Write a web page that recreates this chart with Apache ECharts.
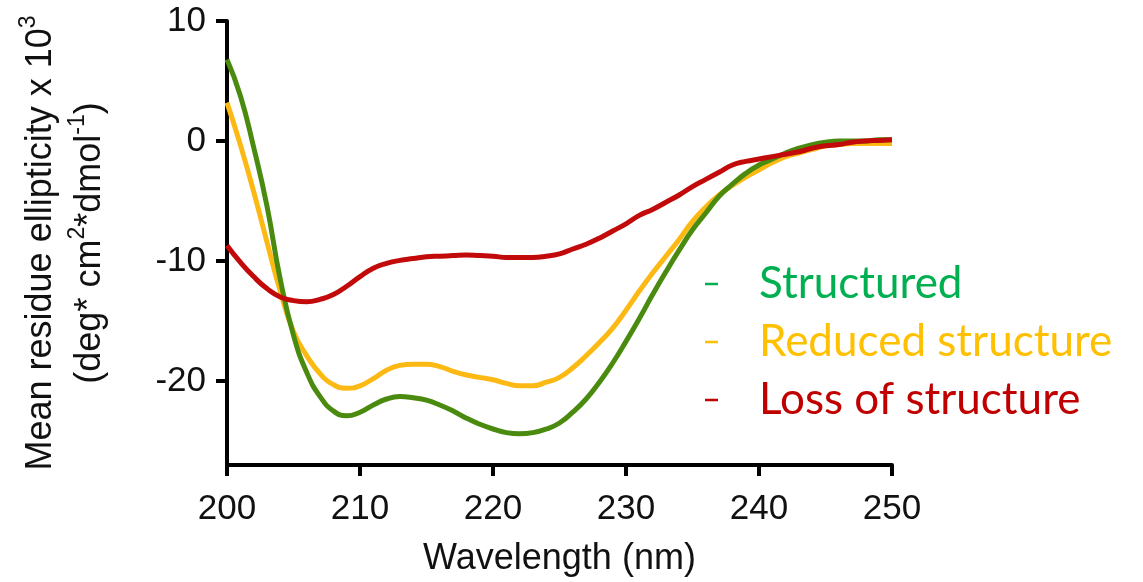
<!DOCTYPE html>
<html>
<head>
<meta charset="utf-8">
<script src="https://cdn.jsdelivr.net/npm/echarts@6/dist/echarts.min.js"></script>
<style>
  html, body { margin: 0; padding: 0; background: #fff; }
  #main { width: 1143px; height: 582px; }
</style>
</head>
<body>
<div id="main"></div>
<script>
// wavelength in nm, one reading per nm
var wavelength = [];
for (var w = 200; w <= 250; w++) wavelength.push(w);

// mean residue ellipticity x 10^3
var structured = [
  6.8, 3.8, -0.5, -5.4, -11.5, -16.2, -19.3, -21.3, -22.5, -22.9,
  -22.6, -22.0, -21.5, -21.3, -21.4, -21.6, -22.0, -22.5, -23.1, -23.6,
  -24.0, -24.3, -24.4, -24.3, -24.0, -23.5, -22.6, -21.5, -20.1, -18.5,
  -16.7, -14.8, -12.8, -10.9, -9.1, -7.4, -6.0, -4.6, -3.6, -2.7,
  -2.0, -1.5, -1.0, -0.6, -0.3, -0.1, 0.0, 0.0, 0.0, 0.1, 0.1
];
var reduced = [
  3.2, -0.3, -4.2, -8.4, -12.5, -15.9, -17.9, -19.4, -20.3, -20.6,
  -20.4, -19.8, -19.1, -18.7, -18.6, -18.6, -18.8, -19.2, -19.5, -19.7,
  -19.9, -20.2, -20.4, -20.4, -20.1, -19.7, -18.9, -17.9, -16.8, -15.6,
  -14.1, -12.5, -11.0, -9.6, -8.2, -6.7, -5.5, -4.5, -3.7, -3.0,
  -2.4, -1.8, -1.3, -1.0, -0.7, -0.4, -0.3, -0.2, -0.2, -0.2, -0.2
];
var lossOfStructure = [
  -8.7, -10.1, -11.3, -12.3, -13.0, -13.3, -13.4, -13.2, -12.8, -12.1,
  -11.3, -10.6, -10.2, -9.95, -9.8, -9.65, -9.6, -9.55, -9.5, -9.55,
  -9.6, -9.7, -9.7, -9.7, -9.6, -9.4, -9.0, -8.6, -8.1, -7.5,
  -6.9, -6.2, -5.7, -5.1, -4.5, -3.8, -3.2, -2.6, -2.0, -1.7,
  -1.5, -1.3, -1.1, -0.9, -0.6, -0.4, -0.3, -0.1, 0.0, 0.05, 0.1
];

var seriesNames = ['Structured', 'Reduced structure', 'Loss of structure'];
var yTicks = [-20, -10, 0, 10];

function pairs(arr) {
  return arr.map(function (v, i) { return [wavelength[i], v]; });
}

var chart = echarts.init(document.getElementById('main'), null, { renderer: 'canvas' });

var axisFont = 'Liberation Sans, Arial, sans-serif';

chart.setOption({
  animation: false,
  backgroundColor: '#fff',
  grid: {
    left: 227,
    right: 251,
    top: 21,
    bottom: 115
  },
  legend: {
    orient: 'vertical',
    left: 700,
    top: 255,
    itemGap: 10,
    icon: 'rect',
    itemWidth: 13,
    itemHeight: 2.5,
    selectedMode: false,
    textStyle: {
      fontFamily: 'Lato, sans-serif',
      fontSize: 44,
      lineHeight: 48,
      padding: [0, 0, 0, 36]
    },
    data: [
      { name: seriesNames[0], itemStyle: { color: '#00b050' }, textStyle: { color: '#00b050' } },
      { name: seriesNames[1], itemStyle: { color: '#ffc000' }, textStyle: { color: '#ffc000' } },
      { name: seriesNames[2], itemStyle: { color: '#c00000' }, textStyle: { color: '#c00000' } }
    ]
  },
  xAxis: {
    type: 'value',
    min: 200,
    max: 250,
    interval: 10,
    name: 'Wavelength (nm)',
    nameLocation: 'middle',
    nameGap: 76,
    nameTextStyle: { color: '#111', fontFamily: axisFont, fontSize: 36 },
    axisLine: { onZero: false, lineStyle: { color: '#000', width: 4 } },
    axisTick: { length: 11, lineStyle: { color: '#000', width: 4 } },
    axisLabel: { color: '#111', fontFamily: axisFont, fontSize: 35, margin: 27 },
    splitLine: { show: false }
  },
  yAxis: {
    type: 'value',
    min: -27,
    max: 10,
    name: '{a|Mean residue ellipticity x 10}{s|3}\n{a|(deg* cm}{s|2}{a|*dmol}{s|-1}{a|)}',
    nameLocation: 'middle',
    nameGap: 112,
    nameTextStyle: {
      color: '#111',
      fontFamily: axisFont,
      lineHeight: 49,
      rich: {
        a: { fontFamily: axisFont, fontSize: 36, color: '#111', lineHeight: 49 },
        s: { fontFamily: axisFont, fontSize: 23, color: '#111', lineHeight: 49, verticalAlign: 'top' }
      }
    },
    axisLine: { onZero: false, lineStyle: { color: '#000', width: 4 } },
    axisTick: { length: 11, customValues: yTicks, lineStyle: { color: '#000', width: 4 } },
    axisLabel: { color: '#111', fontFamily: axisFont, fontSize: 35, margin: 21, customValues: yTicks },
    splitLine: { show: false }
  },
  series: [
    {
      name: seriesNames[0],
      type: 'line',
      smooth: true,
      showSymbol: false,
      data: pairs(structured),
      lineStyle: { color: '#4a8b0f', width: 5 },
      itemStyle: { color: '#00b050' },
      z: 3
    },
    {
      name: seriesNames[1],
      type: 'line',
      smooth: true,
      showSymbol: false,
      data: pairs(reduced),
      lineStyle: { color: '#fdb913', width: 5 },
      itemStyle: { color: '#ffc000' },
      z: 2
    },
    {
      name: seriesNames[2],
      type: 'line',
      smooth: true,
      showSymbol: false,
      data: pairs(lossOfStructure),
      lineStyle: { color: '#c20a0a', width: 5 },
      itemStyle: { color: '#c00000' },
      z: 4
    }
  ]
});
</script>
</body>
</html>
